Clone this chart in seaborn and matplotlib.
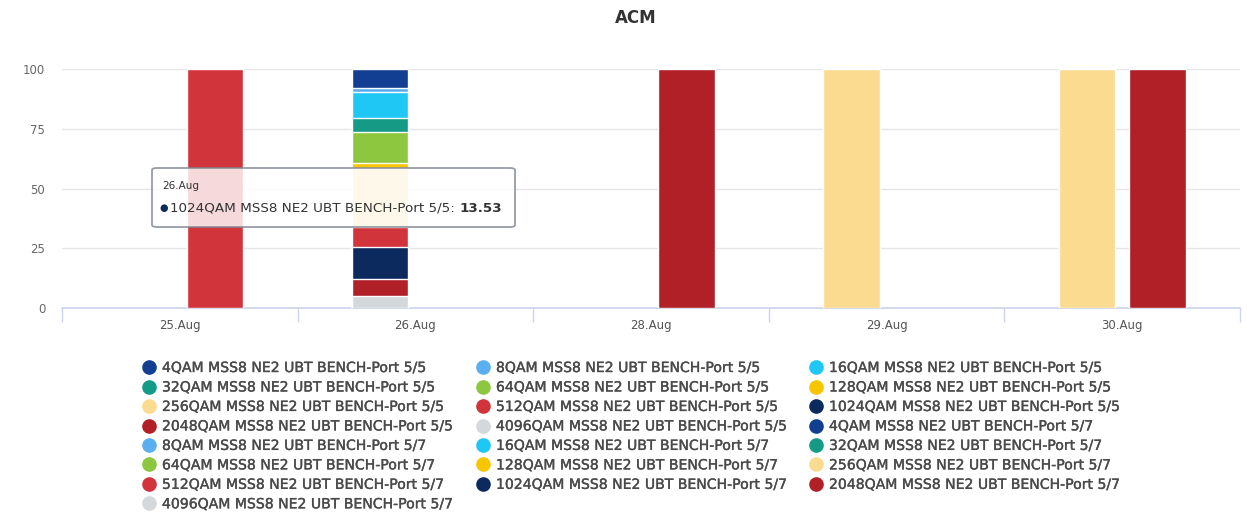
import pandas as pd
import matplotlib
matplotlib.use("Agg")
import matplotlib.pyplot as plt
import matplotlib.patheffects as pe
from matplotlib.lines import Line2D
from matplotlib.patches import FancyBboxPatch
import seaborn as sns

# === Dados ===
dates = ['25.Aug', '26.Aug', '28.Aug', '29.Aug', '30.Aug']
ports = ['5/5', '5/7']
modulations = ['4QAM', '8QAM', '16QAM', '32QAM', '64QAM', '128QAM',
               '256QAM', '512QAM', '1024QAM', '2048QAM', '4096QAM']
mod_colors = ['#123f91', '#5ab0ef', '#1fc8f4', '#159a86', '#8dc63f', '#f7c600',
              '#fbdb8f', '#d1343a', '#0d2a5e', '#b11f27', '#d5d8db']

# percentagem por modulação (mesma ordem de "modulations")
port55_26aug = [7.97, 1.5, 11.1, 5.9, 12.7, 2.3, 24.5, 8.5, 13.53, 7.0, 5.0]
port55_29aug = [0, 0, 0, 0, 0, 0, 100, 0, 0, 0, 0]
port55_30aug = [0, 0, 0, 0, 0, 0, 100, 0, 0, 0, 0]
port57_25aug = [0, 0, 0, 0, 0, 0, 0, 100, 0, 0, 0]
port57_28aug = [0, 0, 0, 0, 0, 0, 0, 0, 0, 100, 0]
port57_30aug = [0, 0, 0, 0, 0, 0, 0, 0, 0, 100, 0]

series = [('26.Aug', '5/5', port55_26aug), ('29.Aug', '5/5', port55_29aug),
          ('30.Aug', '5/5', port55_30aug), ('25.Aug', '5/7', port57_25aug),
          ('28.Aug', '5/7', port57_28aug), ('30.Aug', '5/7', port57_30aug)]

rows = []
for date, port, vals in series:
    for mod, v in zip(modulations, vals):
        rows.append({'date': date, 'port': port, 'mod': mod, 'value': v})
df = pd.DataFrame(rows)

# empilhar: primeira série no topo (como no Highcharts), 4096QAM na base
df['level'] = df['mod'].map({m: i for i, m in enumerate(modulations)})
df = df.sort_values(['date', 'port', 'level'], ascending=[True, True, False])
df['top'] = df.groupby(['date', 'port'])['value'].cumsum()

# === Figura ===
sns.set_theme(style="white")
plt.rcParams['font.family'] = ['DejaVu Sans']

W, H = 1247, 518
fig = plt.figure(figsize=(W / 100, H / 100), dpi=100)
ax = fig.add_axes([62 / W, 1 - 308 / H, (1240 - 62) / W, (308 - 69) / H])

# desenha do topo para a base, cada camada tapa a parte de baixo da anterior
for mod, color in zip(modulations, mod_colors):
    sub = df[(df['mod'] == mod) & (df['value'] > 0)]
    if sub.empty:
        continue
    sns.barplot(data=sub, x='date', y='top', hue='port', order=dates,
                hue_order=ports, palette={p: color for p in ports},
                dodge=True, width=0.6, gap=0.2, errorbar=None,
                edgecolor='white', linewidth=1, saturation=1,
                legend=False, ax=ax, zorder=3)

ax.set_xlim(-0.5, len(dates) - 0.5)
ax.set_ylim(0, 100)
ax.set_yticks([0, 25, 50, 75, 100])
ax.set_xlabel('')
ax.set_ylabel('')
ax.yaxis.grid(True, color='#e6e6e6', linewidth=1)
ax.xaxis.grid(False)
for s in ['top', 'right', 'left']:
    ax.spines[s].set_visible(False)
ax.spines['bottom'].set_color('#ccd6eb')
ax.set_xticks(range(len(dates)))
ax.set_xticklabels(dates)
ax.set_xticks([i - 0.5 for i in range(len(dates) + 1)], minor=True)
ax.tick_params(axis='x', which='major', length=0, pad=8, labelsize=8.5, labelcolor='#555555')
ax.tick_params(axis='x', which='minor', length=10, width=1, color='#ccd6eb', bottom=True)
ax.tick_params(axis='y', length=0, pad=12, labelsize=8.5, labelcolor='#666666')

fig.text(636 / W, 1 - 18 / H, 'ACM', ha='center', va='center',
         fontsize=12, fontweight='bold', color='#333333')

# === Tooltip ===
box = FancyBboxPatch((152 / W, 1 - 227 / H), 363 / W, 59 / H,
                     boxstyle='round,pad=0,rounding_size=0.004',
                     transform=fig.transFigure, facecolor='white', alpha=0.82,
                     edgecolor='#7f8790', linewidth=1.3, zorder=5)
fig.patches.append(box)
fig.text(162 / W, 1 - 186 / H, '26.Aug', ha='left', va='center',
         fontsize=7.5, color='#333333', zorder=6)
fig.text(159 / W, 1 - 208 / H, '\u25cf', ha='left', va='center',
         fontsize=7, color=mod_colors[8], zorder=6)
tip = fig.text(170 / W, 1 - 208 / H,
               f'{modulations[8]} MSS8 NE2 UBT BENCH-Port 5/5: ',
               ha='left', va='center', fontsize=9.7, color='#333333', zorder=6)
bb = tip.get_window_extent(fig.canvas.get_renderer())
fig.text(bb.x1 / W, 1 - 208 / H, f'{port55_26aug[8]:.2f}', ha='left', va='center',
         fontsize=9.7, fontweight='bold', color='#333333', zorder=6)

# === Legenda (3 colunas, ordem por linha) ===
labels = [f'{m} MSS8 NE2 UBT BENCH-Port {p}' for p in ports for m in modulations]
colors = mod_colors * 2
handles = [Line2D([], [], marker='o', linestyle='', markersize=9.5,
                  markerfacecolor=c, markeredgecolor=c) for c in colors]
col_x = [136, 470, 803]
for c in range(3):
    idx = list(range(c, len(labels), 3))
    leg = fig.legend([handles[i] for i in idx], [labels[i] for i in idx],
                     loc='upper left', bbox_to_anchor=(col_x[c] / W, 1 - 354 / H),
                     frameon=False, fontsize=10.1, labelspacing=0.39,
                     handlelength=0.9, handletextpad=0.45, borderpad=0,
                     labelcolor='#4a4a4a')
    for t in leg.get_texts():
        t.set_path_effects([pe.withStroke(linewidth=0.25, foreground='#4a4a4a')])

plt.savefig('out.png', dpi=100)
